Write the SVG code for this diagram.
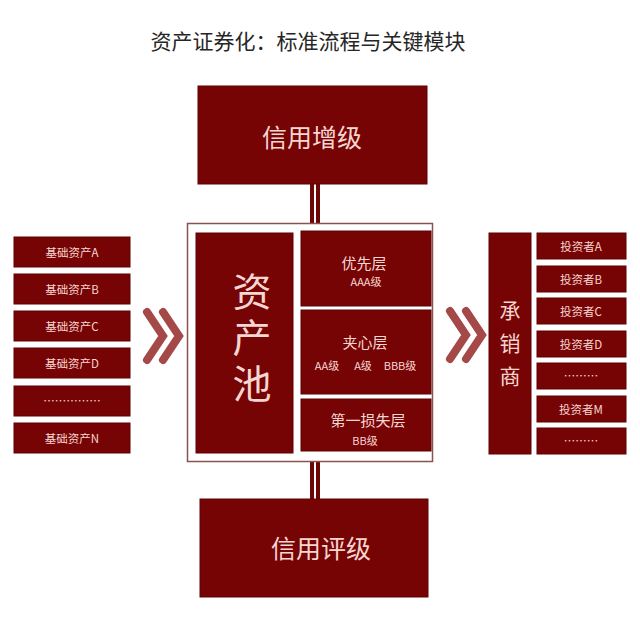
<svg xmlns="http://www.w3.org/2000/svg" width="640" height="634" viewBox="0 0 640 634">
<style>
.box{fill:#760404;stroke:#5e0202;stroke-width:1}
.t{font-family:"Noto Sans CJK SC","Noto Sans",sans-serif;fill:#f6d6d2;text-anchor:middle;dominant-baseline:central}
.v{writing-mode:vertical-rl;text-anchor:start}
.s{font-size:11.5px}
.conn{stroke:#6e0606;stroke-width:4;fill:none}
.chev{stroke:#a54848;stroke-width:8;fill:none;stroke-linecap:round;stroke-linejoin:miter}
</style>
<rect width="640" height="634" fill="#ffffff"/>
<text x="308" y="40" font-family="&quot;Noto Sans CJK SC&quot;,sans-serif" font-size="21" fill="#262626" text-anchor="middle" dominant-baseline="central">资产证券化：标准流程与关键模块</text>

<g id="connectors">
<line class="conn" x1="312" y1="184" x2="312" y2="224"/>
<line class="conn" x1="318" y1="184" x2="318" y2="224"/>
<line class="conn" x1="312" y1="461" x2="312" y2="499"/>
<line class="conn" x1="318" y1="461" x2="318" y2="499"/>
<polyline class="chev" points="147,312 163,336 147,360"/>
<polyline class="chev" points="163,312 179,336 163,360"/>
<polyline class="chev" points="450,311 466,335 450,359"/>
<polyline class="chev" points="466,311 482,335 466,359"/>
</g>

<g id="credit-enhancement">
<rect class="box" x="198" y="86" width="229" height="98"/>
<text class="t" x="312" y="136" font-size="25">信用增级</text>
</g>

<g id="pool-frame">
<rect x="187.5" y="223.5" width="245" height="238" fill="#fff" stroke="#8c5252" stroke-width="1.5"/>
</g>

<g id="asset-pool">
<rect class="box" x="196" y="233" width="97" height="220"/>
<text class="t v" x="252" y="272" font-size="39" letter-spacing="7">资产池</text>
</g>

<g id="senior">
<rect class="box" x="301" y="231" width="130" height="75"/>
<text class="t" x="364" y="262" font-size="15">优先层</text>
<text class="t" x="366" y="281" font-size="11">AAA级</text>
</g>

<g id="mezzanine">
<rect class="box" x="301" y="310" width="130" height="84"/>
<text class="t" x="365" y="341" font-size="15">夹心层</text>
<text class="t" x="327" y="365" font-size="11">AA级</text>
<text class="t" x="363" y="365" font-size="11">A级</text>
<text class="t" x="400" y="365" font-size="11">BBB级</text>
</g>

<g id="first-loss">
<rect class="box" x="301" y="399" width="130" height="52"/>
<text class="t" x="368" y="419" font-size="15">第一损失层</text>
<text class="t" x="365" y="440" font-size="11">BB级</text>
</g>

<g id="rating">
<rect class="box" x="200" y="499" width="228" height="98"/>
<text class="t" x="321" y="547" font-size="25">信用评级</text>
</g>

<g id="asset-a"><rect class="box" x="14" y="237" width="116" height="30"/><text class="t s" x="72" y="252">基础资产A</text></g>
<g id="asset-b"><rect class="box" x="14" y="274" width="116" height="30"/><text class="t s" x="72" y="289">基础资产B</text></g>
<g id="asset-c"><rect class="box" x="14" y="311" width="116" height="30"/><text class="t s" x="72" y="326">基础资产C</text></g>
<g id="asset-d"><rect class="box" x="14" y="348" width="116" height="30"/><text class="t s" x="72" y="363">基础资产D</text></g>
<g id="asset-dots"><rect class="box" x="14" y="386" width="116" height="30"/><text class="t s" x="72" y="400">……………</text></g>
<g id="asset-n"><rect class="box" x="14" y="423" width="116" height="30"/><text class="t s" x="72" y="438">基础资产N</text></g>

<g id="underwriter">
<rect class="box" x="489" y="233" width="42" height="221"/>
<text class="t v" x="510" y="300" font-size="21" letter-spacing="12">承销商</text>
</g>

<g id="investor-a"><rect class="box" x="537" y="233" width="89" height="26"/><text class="t s" x="581" y="246">投资者A</text></g>
<g id="investor-b"><rect class="box" x="537" y="266" width="89" height="26"/><text class="t s" x="581" y="279">投资者B</text></g>
<g id="investor-c"><rect class="box" x="537" y="298" width="89" height="26"/><text class="t s" x="581" y="311">投资者C</text></g>
<g id="investor-d"><rect class="box" x="537" y="331" width="89" height="26"/><text class="t s" x="581" y="344">投资者D</text></g>
<g id="investor-dots1"><rect class="box" x="537" y="363" width="89" height="26"/><text class="t s" x="581" y="375">………</text></g>
<g id="investor-m"><rect class="box" x="537" y="396" width="89" height="26"/><text class="t s" x="581" y="409">投资者M</text></g>
<g id="investor-dots2"><rect class="box" x="537" y="428" width="89" height="26"/><text class="t s" x="581" y="440">………</text></g>
</svg>
